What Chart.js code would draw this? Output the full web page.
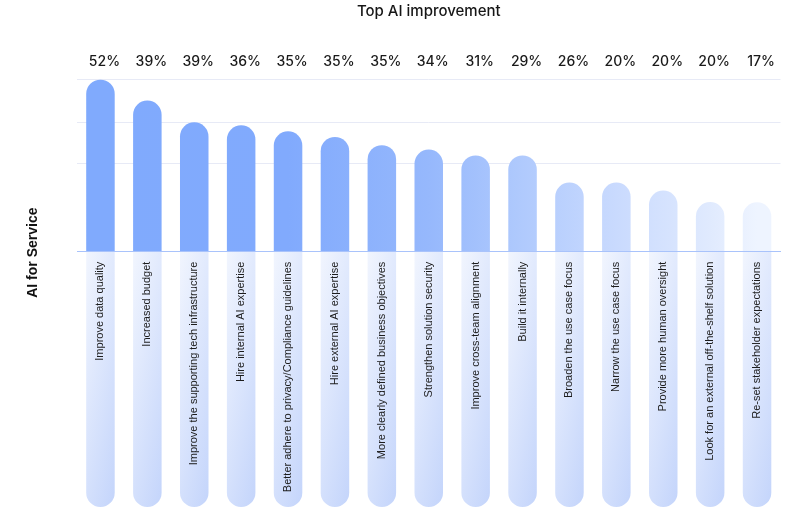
<!DOCTYPE html>
<html>
<head>
<meta charset="utf-8">
<script src="https://cdn.jsdelivr.net/npm/chart.js@4.4.1/dist/chart.umd.min.js"></script>
<style>
html, body { margin: 0; padding: 0; background: #ffffff; }
#wrap { width: 798px; height: 518px; position: relative; }
</style>
</head>
<body>
<div id="wrap"><canvas id="c"></canvas></div>
<script>
const chartTitle = 'Top AI improvement';
const yAxisTitle = 'AI for Service';
const categories = [
  'Improve data quality',
  'Increased budget',
  'Improve the supporting tech infrastructure',
  'Hire internal AI expertise',
  'Better adhere to privacy/Compliance guidelines',
  'Hire external AI expertise',
  'More clearly defined business objectives',
  'Strengthen solution security',
  'Improve cross-team alignment',
  'Build it internally',
  'Broaden the use case focus',
  'Narrow the use case focus',
  'Provide more human oversight',
  'Look for an external off-the-shelf solution',
  'Re-set stakeholder expectations'
];
const percentLabels = ['52%', '39%', '39%', '36%', '35%', '35%', '35%', '34%', '31%', '29%', '26%', '20%', '20%', '20%', '17%'];
const barValues = [52.0, 45.7, 39.1, 38.2, 36.4, 34.7, 32.2, 30.9, 29.1, 29.1, 20.9, 20.9, 18.5, 15.0, 14.9];
const gridTicks = [26.6, 39.0, 52.2];
const yMax = 52.2;
const trackDepth = -77.2;

function barGradient(context) {
  const chart = context.chart;
  const area = chart.chartArea;
  if (!area) return '#80aafd';
  const xs = chart.scales.x;
  const g = chart.ctx.createLinearGradient(area.left, 0, area.right, 0);
  const stops = [[0, '#80aafd'], [4, '#81aafd'], [7, '#96b8fc'], [9, '#b0cafd'], [11, '#c9dafe'], [13, '#e0eafe'], [14, '#eef4ff']];
  stops.forEach(([i, c]) => {
    let p = (xs.getPixelForValue(i) - area.left) / (area.right - area.left);
    g.addColorStop(Math.min(1, Math.max(0, p)), c);
  });
  return g;
}

function trackGradient(context) {
  const chart = context.chart;
  const area = chart.chartArea;
  if (!area || context.type !== 'data') return '#e4ebfd';
  const cx = chart.scales.x.getPixelForValue(context.dataIndex);
  const y0 = chart.scales.y.getPixelForValue(0);
  const g = chart.ctx.createLinearGradient(cx - 14, y0, cx + 66, y0 + 17);
  g.addColorStop(0, '#f1f5fe');
  g.addColorStop(1, '#c3d4fb');
  return g;
}

const yTitlePlugin = {
  id: 'yTitle',
  afterDraw(chart) {
    const ctx = chart.ctx;
    const y0 = chart.scales.y.getPixelForValue(0);
    ctx.save();
    ctx.translate(33, y0 + 1);
    ctx.rotate(-Math.PI / 2);
    ctx.font = 'bold 14px "Liberation Sans", Arial, sans-serif';
    ctx.fillStyle = '#111111';
    ctx.textAlign = 'center';
    ctx.textBaseline = 'middle';
    ctx.fillText(yAxisTitle, 0, 0);
    ctx.restore();
  }
};

new Chart(document.getElementById('c'), {
  type: 'bar',
  data: {
    labels: categories,
    datasets: [
      {
        data: barValues,
        backgroundColor: barGradient,
        borderRadius: 20,
        borderSkipped: 'start',
        categoryPercentage: 0.608,
        barPercentage: 1,
        xAxisID: 'x',
        yAxisID: 'y'
      },
      {
        data: categories.map(() => trackDepth),
        backgroundColor: trackGradient,
        borderRadius: 20,
        borderSkipped: 'start',
        categoryPercentage: 0.608,
        barPercentage: 1,
        xAxisID: 'x',
        yAxisID: 'y'
      }
    ]
  },
  options: {
    responsive: true,
    maintainAspectRatio: false,
    animation: false,
    events: [],
    layout: { padding: { left: 77, right: 17.5, top: 0, bottom: 11 } },
    plugins: {
      legend: { display: false },
      tooltip: { enabled: false },
      title: {
        display: true,
        text: chartTitle,
        color: '#161616',
        font: { family: 'Inter', size: 15, weight: '500' },
        padding: { top: 2, bottom: 24.2 }
      }
    },
    scales: {
      x: {
        type: 'category',
        stacked: true,
        position: { y: 0 },
        offset: true,
        grid: { display: false, drawTicks: false },
        border: { display: true, color: '#a9c3fb', width: 1, z: 1 },
        ticks: {
          autoSkip: false,
          minRotation: 90,
          maxRotation: 90,
          padding: 10,
          z: 1,
          color: '#1c1c1c',
          font: { family: '"Liberation Sans", Arial, sans-serif', size: 11 }
        }
      },
      x2: {
        type: 'category',
        labels: percentLabels,
        position: 'top',
        offset: true,
        grid: { display: false, drawTicks: false },
        border: { display: false },
        ticks: {
          autoSkip: false,
          maxRotation: 0,
          padding: 9,
          labelOffset: 4,
          color: '#1a1a1a',
          font: { family: 'Inter', size: 14, weight: '500' }
        }
      },
      y: {
        stacked: true,
        min: trackDepth,
        max: yMax,
        afterBuildTicks: (scale) => { scale.ticks = gridTicks.map(v => ({ value: v })); },
        grid: { color: '#e7eaf6', lineWidth: 1, drawTicks: false },
        border: { display: false },
        ticks: { display: false }
      }
    }
  },
  plugins: [yTitlePlugin]
});
</script>
</body>
</html>
